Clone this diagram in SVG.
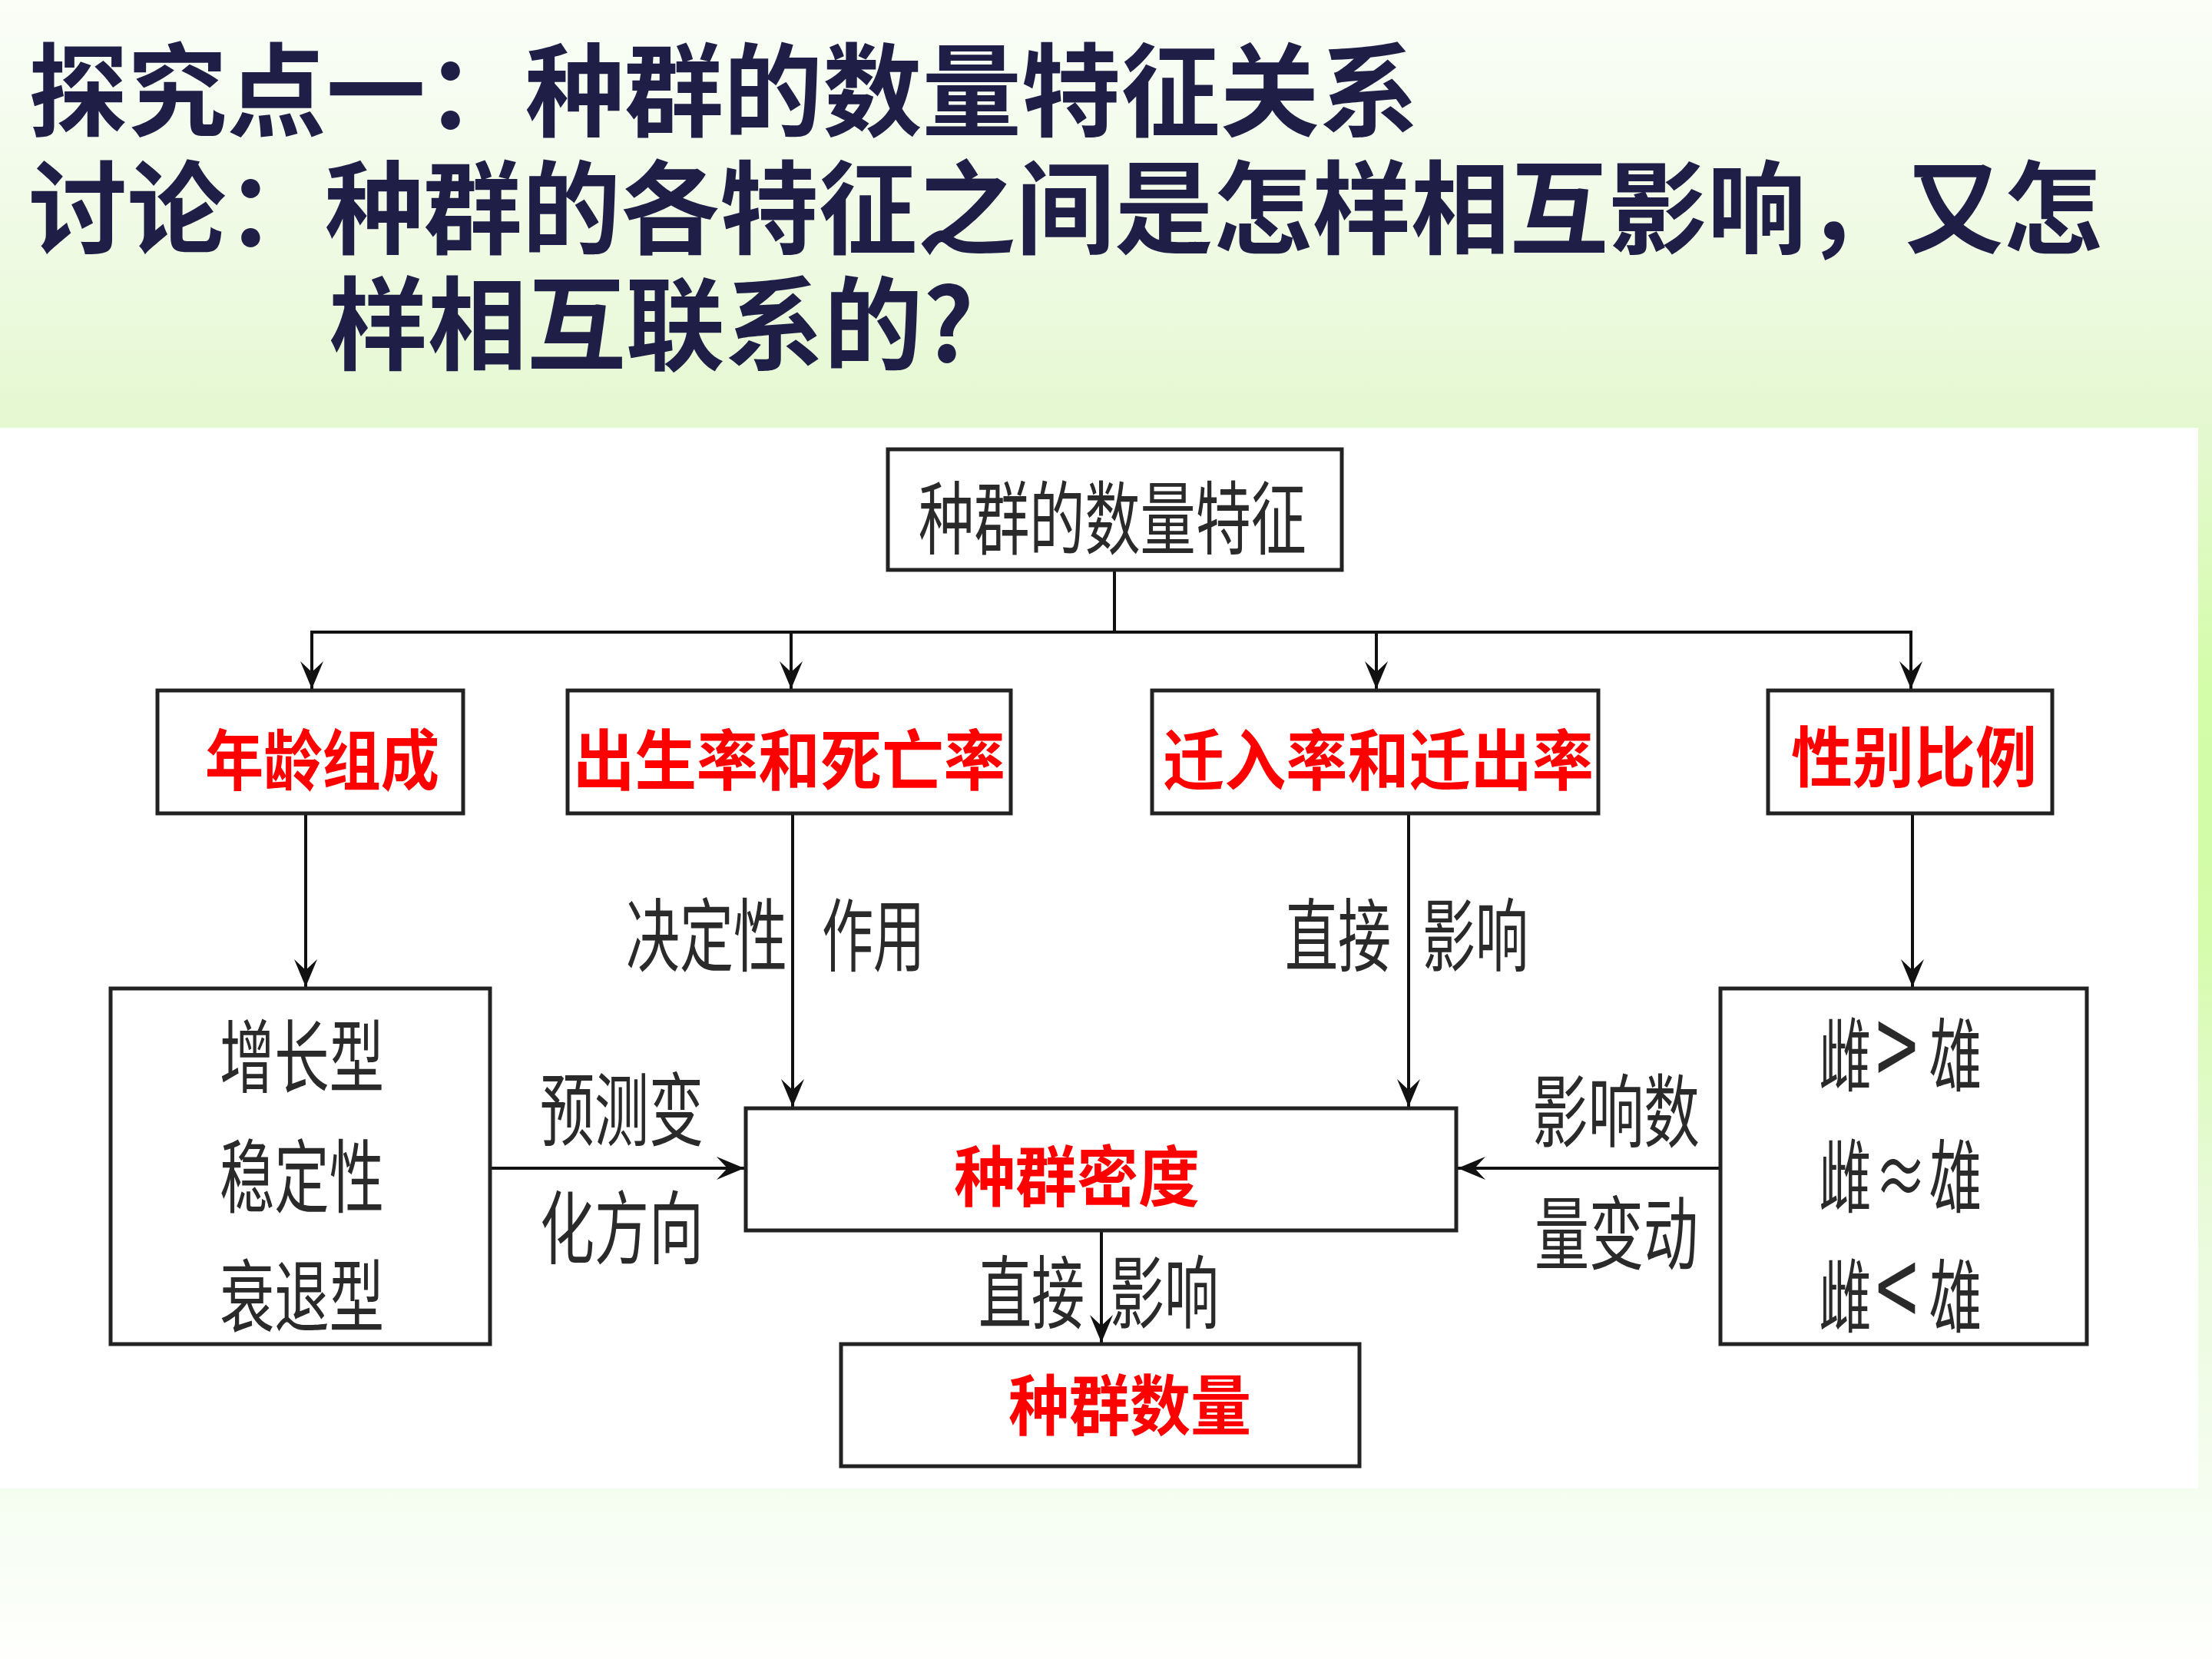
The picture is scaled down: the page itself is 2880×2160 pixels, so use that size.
<svg xmlns="http://www.w3.org/2000/svg" width="2880" height="2160" viewBox="0 0 2880 2160">
<defs>
<linearGradient id="bg" x1="0" y1="0" x2="0" y2="1">
<stop offset="0" stop-color="#fbfef8"/>
<stop offset="0.12" stop-color="#f1fbe8"/>
<stop offset="0.26" stop-color="#e4f8d0"/>
<stop offset="0.42" stop-color="#d3fda8"/>
<stop offset="0.56" stop-color="#d4fcaa"/>
<stop offset="0.72" stop-color="#e8fad8"/>
<stop offset="0.9" stop-color="#f5fdf0"/>
<stop offset="1" stop-color="#fefffd"/>
</linearGradient>
<marker id="arr" markerUnits="userSpaceOnUse" viewBox="-38 -18 40 36" refX="0" refY="0" markerWidth="40" markerHeight="36" orient="auto">
<path d="M0,0 L-36,-15 L-22,0 L-36,15 Z" fill="#111"/>
</marker>
<style>
.title{font-family:"Noto Sans CJK SC","Noto Sans CJK TC",sans-serif;font-weight:700;fill:#1e1e46;font-size:132px}
.box{fill:#fff;stroke:#222;stroke-width:5}
.red{font-family:"Noto Sans CJK SC",sans-serif;font-weight:700;fill:#ff0000;font-size:86px}
.gray{font-family:"Noto Sans CJK SC",sans-serif;font-weight:400;fill:#2a2a2a;font-size:104px}
.ln{stroke:#111;stroke-width:4;fill:none}
.ar{stroke:#111;stroke-width:4;fill:none;marker-end:url(#arr)}
</style>
</defs>
<rect x="0" y="0" width="2880" height="2160" fill="url(#bg)"/>
<rect x="0" y="557" width="2862" height="1381" fill="#ffffff"/>

<g id="title">
<text class="title" x="37" y="167" textLength="1810" lengthAdjust="spacingAndGlyphs">探究点一：种群的数量特征关系</text>
<text class="title" x="37" y="320" textLength="2700" lengthAdjust="spacingAndGlyphs">讨论：种群的各特征之间是怎样相互影响，又怎</text>
<text class="title" x="428" y="471" textLength="840" lengthAdjust="spacingAndGlyphs">样相互联系的?</text>
</g>

<g id="connectors">
<line class="ln" x1="1451" y1="744" x2="1451" y2="823"/>
<line class="ln" x1="404" y1="823" x2="2490" y2="823"/>
<line class="ar" x1="406" y1="823" x2="406" y2="897"/>
<line class="ar" x1="1030" y1="823" x2="1030" y2="897"/>
<line class="ar" x1="1792" y1="823" x2="1792" y2="897"/>
<line class="ar" x1="2488" y1="823" x2="2488" y2="897"/>
<line class="ar" x1="398" y1="1061" x2="398" y2="1285"/>
<line class="ar" x1="1032" y1="1061" x2="1032" y2="1441"/>
<line class="ar" x1="1834" y1="1061" x2="1834" y2="1441"/>
<line class="ar" x1="2490" y1="1061" x2="2490" y2="1285"/>
<line class="ar" x1="640" y1="1521" x2="969" y2="1521"/>
<line class="ar" x1="2238" y1="1521" x2="1898" y2="1521"/>
<line class="ar" x1="1434" y1="1604" x2="1434" y2="1748"/>
<text class="gray" x="815" y="1257" textLength="210" lengthAdjust="spacingAndGlyphs">决定性</text>
<text class="gray" x="1070" y="1257" textLength="134" lengthAdjust="spacingAndGlyphs">作用</text>
<text class="gray" x="1673" y="1257" textLength="138" lengthAdjust="spacingAndGlyphs">直接</text>
<text class="gray" x="1852" y="1257" textLength="138" lengthAdjust="spacingAndGlyphs">影响</text>
<text class="gray" x="703" y="1484" textLength="213" lengthAdjust="spacingAndGlyphs">预测变</text>
<text class="gray" x="703" y="1638" textLength="213" lengthAdjust="spacingAndGlyphs">化方向</text>
<text class="gray" x="1995" y="1486" textLength="218" lengthAdjust="spacingAndGlyphs">影响数</text>
<text class="gray" x="1998" y="1645" textLength="213" lengthAdjust="spacingAndGlyphs">量变动</text>
<text class="gray" x="1274" y="1722" textLength="138" lengthAdjust="spacingAndGlyphs">直接</text>
<text class="gray" x="1445" y="1722" textLength="142" lengthAdjust="spacingAndGlyphs">影响</text>
</g>

<g id="node-features">
<rect class="box" x="1156" y="585" width="591" height="157"/>
<text class="gray" x="1196" y="714" font-size="110" textLength="505" lengthAdjust="spacingAndGlyphs">种群的数量特征</text>
</g>
<g id="node-age">
<rect class="box" x="205" y="899" width="398" height="160"/>
<text class="red" x="267" y="1022" textLength="305" lengthAdjust="spacingAndGlyphs">年龄组成</text>
</g>
<g id="node-birth">
<rect class="box" x="739" y="899" width="577" height="160"/>
<text class="red" x="746" y="1022" textLength="563" lengthAdjust="spacingAndGlyphs">出生率和死亡率</text>
</g>
<g id="node-migration">
<rect class="box" x="1500" y="899" width="581" height="160"/>
<text class="red" x="1514" y="1022" textLength="561" lengthAdjust="spacingAndGlyphs">迁入率和迁出率</text>
</g>
<g id="node-sex">
<rect class="box" x="2302" y="899" width="370" height="160"/>
<text class="red" x="2332" y="1018" textLength="320" lengthAdjust="spacingAndGlyphs">性别比例</text>
</g>
<g id="node-types">
<rect class="box" x="144" y="1287" width="494" height="463"/>
<text class="gray" x="286" y="1415" font-size="108" textLength="214" lengthAdjust="spacingAndGlyphs">增长型</text>
<text class="gray" x="286" y="1571" font-size="108" textLength="214" lengthAdjust="spacingAndGlyphs">稳定性</text>
<text class="gray" x="286" y="1727" font-size="108" textLength="214" lengthAdjust="spacingAndGlyphs">衰退型</text>
</g>
<g id="node-ratio">
<rect class="box" x="2240" y="1287" width="477" height="463"/>
<text class="gray" font-size="108" transform="translate(2368,1413) scale(0.66,1)" y="0"><tspan x="0">雌</tspan><tspan x="112" font-size="150" dy="6">&gt;</tspan><tspan x="218" dy="-6">雄</tspan></text>
<text class="gray" font-size="108" transform="translate(2368,1571) scale(0.66,1)" y="0"><tspan x="0">雌</tspan><tspan x="110">≈</tspan><tspan x="218">雄</tspan></text>
<text class="gray" font-size="108" transform="translate(2368,1727) scale(0.66,1)" y="0"><tspan x="0">雌</tspan><tspan x="112" font-size="150" dy="6">&lt;</tspan><tspan x="218" dy="-6">雄</tspan></text>
</g>
<g id="node-density">
<rect class="box" x="971" y="1443" width="925" height="159"/>
<text class="red" x="1242" y="1564" textLength="320" lengthAdjust="spacingAndGlyphs">种群密度</text>
</g>
<g id="node-number">
<rect class="box" x="1095" y="1750" width="675" height="159"/>
<text class="red" x="1313" y="1862" textLength="316" lengthAdjust="spacingAndGlyphs">种群数量</text>
</g>
</svg>
